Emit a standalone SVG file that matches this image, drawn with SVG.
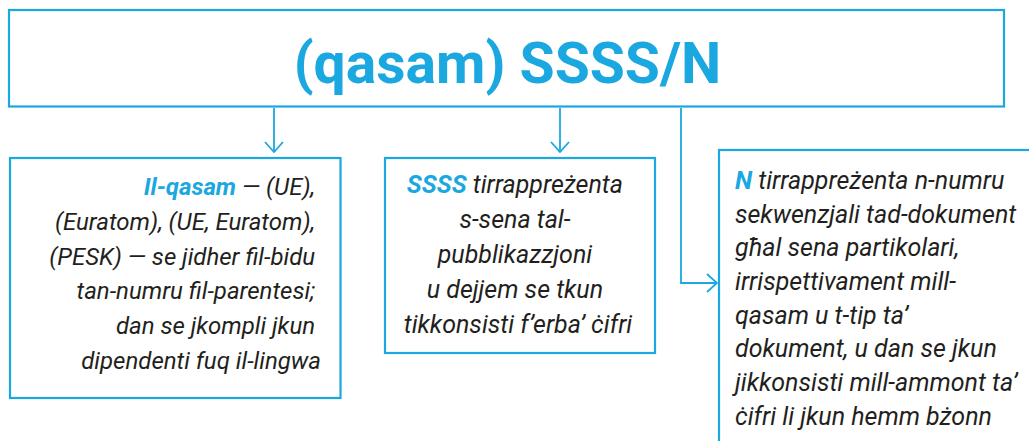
<svg xmlns="http://www.w3.org/2000/svg" width="1029" height="441" viewBox="0 0 1029 441">
<defs>
<style>
.box{fill:#fff;stroke:#1ba7e0;stroke-width:2.2}
.ln{fill:none;stroke:#1ba7e0;stroke-width:1.8}
.t{font-family:Roboto,"Open Sans","Liberation Sans",sans-serif;font-style:italic;font-size:25px;fill:#231f20}
.s{font-size:24px}
.b{font-weight:bold;fill:#1ba7e0}
.title{font-family:Roboto,"Open Sans","Liberation Sans",sans-serif;font-weight:bold;font-size:57px;fill:#1ba7e0}
</style>
<marker id="ah" viewBox="0 0 12 20" refX="11" refY="10" markerWidth="12" markerHeight="20" markerUnits="userSpaceOnUse" orient="auto">
<path d="M1,1 L11,10 L1,19" fill="none" stroke="#1ba7e0" stroke-width="1.8"/>
</marker>
</defs>
<rect width="1029" height="441" fill="#fff"/>
<g id="connectors">
<line class="ln" x1="274" y1="108" x2="274" y2="152" marker-end="url(#ah)"/>
<line class="ln" x1="560" y1="108" x2="560" y2="152" marker-end="url(#ah)"/>
<polyline class="ln" points="681,108 681,283 717,283" marker-end="url(#ah)"/>
</g>
<g id="title">
<rect class="box" x="9" y="10" width="995" height="96.5"/>
<text class="title" x="507.5" y="83" text-anchor="middle">(qasam) SSSS/N</text>
</g>
<g id="node-qasam">
<rect class="box" x="10" y="158" width="330.5" height="240"/>
<text class="t s" text-anchor="end">
<tspan x="321" y="195"><tspan class="b">Il-qasam</tspan> — (UE),</tspan>
<tspan x="321" y="230">(Euratom), (UE, Euratom),</tspan>
<tspan x="321" y="265">(PESK) — se jidher fil-bidu</tspan>
<tspan x="321" y="299">tan-numru fil-parentesi;</tspan>
<tspan x="321" y="334">dan se jkompli jkun</tspan>
<tspan x="321" y="369">dipendenti fuq il-lingwa</tspan>
</text>
</g>
<g id="node-ssss">
<rect class="box" x="385" y="158" width="270" height="195"/>
<text class="t" text-anchor="middle">
<tspan x="518" y="193"><tspan class="b">SSSS</tspan> tirrappreżenta</tspan>
<tspan x="518" y="228">s-sena tal-</tspan>
<tspan x="518" y="263">pubblikazzjoni</tspan>
<tspan x="518" y="298">u dejjem se tkun</tspan>
<tspan x="518" y="333">tikkonsisti f’erba’ ċifri</tspan>
</text>
</g>
<g id="node-n">
<rect class="box" x="719" y="150" width="330" height="310"/>
<text class="t">
<tspan x="735" y="189"><tspan class="b">N</tspan> tirrappreżenta n-numru</tspan>
<tspan x="735" y="223">sekwenzjali tad-dokument</tspan>
<tspan x="735" y="256">għal sena partikolari,</tspan>
<tspan x="735" y="290">irrispettivament mill-</tspan>
<tspan x="735" y="324">qasam u t-tip ta’</tspan>
<tspan x="735" y="357">dokument, u dan se jkun</tspan>
<tspan x="735" y="391">jikkonsisti mill-ammont ta’</tspan>
<tspan x="735" y="425">ċifri li jkun hemm bżonn</tspan>
</text>
</g>
</svg>
